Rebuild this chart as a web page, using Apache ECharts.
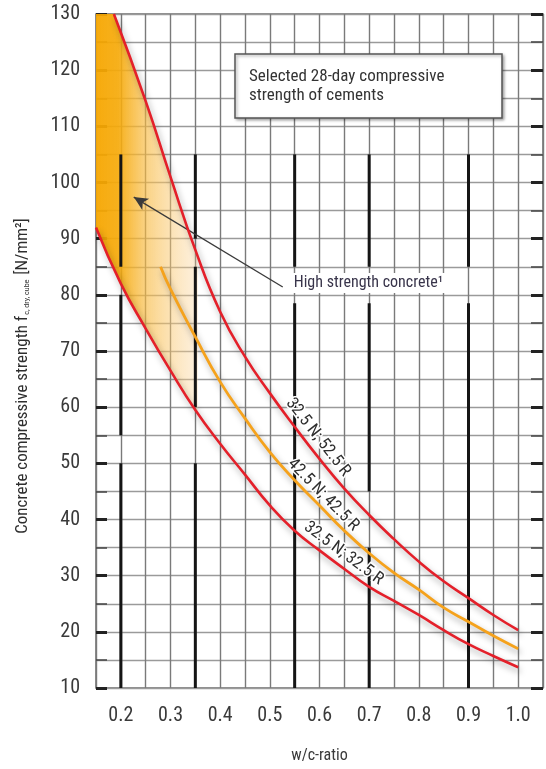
<!DOCTYPE html>
<html><head><meta charset="utf-8">
<script src="https://cdn.jsdelivr.net/npm/echarts@6/dist/echarts.min.js"></script>
<style>html,body{margin:0;padding:0;background:#fff}#c{width:546px;height:769px}</style>
</head><body><div id="c"></div>
<script>
// ---- data ----
const xTicks = [0.2, 0.3, 0.4, 0.5, 0.6, 0.7, 0.8, 0.9, 1.0];
const xTickLabels = ['0.2', '0.3', '0.4', '0.5', '0.6', '0.7', '0.8', '0.9', '1.0'];
const yTicks = [10, 20, 30, 40, 50, 60, 70, 80, 90, 100, 110, 120, 130];
const yTickLabels = ['10', '20', '30', '40', '50', '60', '70', '80', '90', '100', '110', '120', '130'];

// 32.5 N; 52.5 R
const curveHigh = [[0.186, 130], [0.25, 114.5], [0.3, 101], [0.35, 88], [0.4, 77], [0.45, 69], [0.5, 62.5],
  [0.55, 56.5], [0.6, 50.8], [0.65, 45.5], [0.7, 40.8], [0.75, 36.5], [0.8, 32.5], [0.85, 29], [0.9, 26],
  [0.95, 23], [1.0, 20.3]];
// 42.5 N; 42.5 R
const curveMid = [[0.28, 85], [0.3, 81], [0.35, 72.5], [0.4, 64.5], [0.45, 58], [0.5, 52], [0.55, 47],
  [0.6, 42.5], [0.65, 38], [0.7, 34], [0.75, 30.5], [0.8, 27.5], [0.85, 24.3], [0.9, 21.8], [0.95, 19.3], [1.0, 17]];
// 32.5 N; 32.5 R
const curveLow = [[0.15, 92], [0.2, 82], [0.25, 74], [0.3, 66.5], [0.35, 59.5], [0.4, 53.5], [0.45, 48],
  [0.5, 42.5], [0.55, 38], [0.6, 34.5], [0.65, 31.2], [0.7, 28], [0.75, 25.5], [0.8, 23], [0.85, 20.3],
  [0.9, 17.8], [0.95, 15.7], [1.0, 13.7]];
const curveNames = ['32.5 N; 52.5 R', '42.5 N; 42.5 R', '32.5 N; 32.5 R'];

// heavy vertical grid segments: [x, yFrom, yTo]
const thickSegments = [
  [0.2, 10, 50], [0.2, 55, 80], [0.2, 85, 105],
  [0.35, 10, 50], [0.35, 60, 85], [0.35, 90, 105],
  [0.55, 10, 78.5], [0.55, 85, 105],
  [0.7, 10, 35], [0.7, 45, 78.5], [0.7, 85, 105],
  [0.9, 10, 78.5], [0.9, 85, 105]
];
const shadeRightX = 0.355;       // right edge of high strength zone
const arrowFrom = [0.526, 81.4];  // annotation arrow (data coords)
const arrowTo = [0.226, 97.4];
const hscLabel = 'High strength concrete\u00B9';
const boxLines = ['Selected 28-day compressive', 'strength of cements'];

// ---- helpers ----
function interp(curve, x) {
  for (let i = 0; i < curve.length - 1; i++) {
    const a = curve[i], b = curve[i + 1];
    if (x >= a[0] && x <= b[0]) return a[1] + (b[1] - a[1]) * (x - a[0]) / (b[0] - a[0]);
  }
  return x < curve[0][0] ? curve[0][1] : curve[curve.length - 1][1];
}

const FONT = "'Roboto Condensed', 'Liberation Sans', sans-serif";
const RED = '#e4202a', ORANGE = '#f5a21c';
const TXT = '#3a3a3a';

const chart = echarts.init(document.getElementById('c'));

const lineShadow = { shadowColor: 'rgba(0,0,0,0.35)', shadowBlur: 6, shadowOffsetX: 2, shadowOffsetY: 4 };

chart.setOption({
  animation: false,
  grid: { left: 96, right: 1, top: 14, bottom: 81, show: true, borderColor: '#6a6a6a', borderWidth: 1.5, backgroundColor: 'transparent' },
  xAxis: {
    type: 'value', min: 0.15, max: 1.05, interval: 0.05,
    axisLine: { show: false }, axisTick: { show: false },
    splitLine: { show: true, lineStyle: { color: '#7a7a7a', width: 1.4 } },
    axisLabel: {
      margin: 18, fontSize: 20, color: TXT, fontFamily: FONT,
      formatter: v => { const i = xTicks.findIndex(t => Math.abs(t - v) < 1e-6); return i >= 0 ? xTickLabels[i] : ''; }
    },
    name: 'w/c-ratio', nameLocation: 'middle', nameGap: 60,
    nameTextStyle: { fontSize: 16, color: TXT, fontFamily: FONT }
  },
  yAxis: [{
    type: 'value', min: 10, max: 130, interval: 10, position: 'left',
    axisLine: { show: false },
    axisTick: { show: true, inside: true, length: 11, lineStyle: { color: '#222', width: 3 } },
    minorTick: { show: true, splitNumber: 2, length: 11, lineStyle: { color: '#444', width: 1.5 } },
    splitLine: { show: true, lineStyle: { color: '#9a9a9a', width: 1.4 } },
    minorSplitLine: { show: true, lineStyle: { color: '#9a9a9a', width: 1.4 } },
    axisLabel: {
      margin: 16, fontSize: 20, color: TXT, fontFamily: FONT,
      formatter: v => { const i = yTicks.indexOf(Math.round(v)); return i >= 0 ? yTickLabels[i] : ''; }
    }
  }, {
    type: 'value', min: 10, max: 130, interval: 10, position: 'right',
    axisLine: { show: false }, axisLabel: { show: false }, splitLine: { show: false },
    axisTick: { show: true, inside: true, length: 12, lineStyle: { color: '#222', width: 3 } },
    minorTick: { show: true, splitNumber: 2, length: 12, lineStyle: { color: '#444', width: 1.5 } }
  }],
  series: [
    {
      type: 'custom', z: 1, silent: true, clip: true,
      data: [[0.2, 100]],
      renderItem: (params, api) => {
        const pts = [];
        curveHigh.filter(p => p[0] <= shadeRightX).forEach(p => pts.push(api.coord(p)));
        pts.push(api.coord([shadeRightX, interp(curveHigh, shadeRightX)]));
        pts.push(api.coord([shadeRightX, interp(curveLow, shadeRightX)]));
        curveLow.filter(p => p[0] <= shadeRightX).slice().reverse().forEach(p => pts.push(api.coord(p)));
        pts.push(api.coord([0.15, 130]));
        return {
          type: 'polygon', shape: { points: pts },
          style: {
            fill: new echarts.graphic.LinearGradient(0, 0, 1, 0, [
              { offset: 0, color: 'rgba(246,166,0,0.95)' },
              { offset: 0.22, color: 'rgba(246,170,10,0.92)' },
              { offset: 0.5, color: 'rgba(248,188,70,0.65)' },
              { offset: 1, color: 'rgba(251,214,160,0.35)' }
            ])
          }
        };
      }
    },
    {
      type: 'custom', z: 2, silent: true, clip: true,
      encode: { x: 0, y: [1, 2] },
      data: thickSegments,
      renderItem: (params, api) => {
        const a = api.coord([api.value(0), api.value(1)]);
        const b = api.coord([api.value(0), api.value(2)]);
        return { type: 'line', shape: { x1: a[0], y1: a[1], x2: b[0], y2: b[1] }, style: { stroke: '#151515', lineWidth: 3 } };
      }
    },
    {
      name: curveNames[0], type: 'line', z: 5, data: curveHigh, smooth: true, symbol: 'none', clip: true,
      lineStyle: Object.assign({ color: RED, width: 2.6 }, lineShadow),
      markLine: {
        silent: true, symbol: ['none', 'arrow'], symbolSize: [10, 14],
        label: { show: false },
        lineStyle: { color: '#3a3a3a', width: 1.3, type: 'solid' },
        data: [[{ coord: arrowFrom }, { coord: arrowTo }]]
      }
    },
    {
      name: curveNames[1], type: 'line', z: 5, data: curveMid, smooth: true, symbol: 'none', clip: true,
      lineStyle: Object.assign({ color: ORANGE, width: 2.8 }, lineShadow)
    },
    {
      name: curveNames[2], type: 'line', z: 5, data: curveLow, smooth: true, symbol: 'none', clip: true,
      lineStyle: Object.assign({ color: RED, width: 2.6 }, lineShadow)
    }
  ]
});

// ---- annotations positioned through the chart's scales ----
function px(p) { return chart.convertToPixel({ gridIndex: 0 }, p); }
const labelSpecs = [
  { curve: curveHigh, x: 0.578, off: 12, text: curveNames[0] },
  { curve: curveMid, x: 0.593, off: 10, text: curveNames[1] },
  { curve: curveLow, x: 0.634, off: 12, text: curveNames[2] }
];
const graphics = [];
labelSpecs.forEach(s => {
  const p = px([s.x, interp(s.curve, s.x)]);
  const p1 = px([s.x - 0.03, interp(s.curve, s.x - 0.03)]);
  const p2 = px([s.x + 0.03, interp(s.curve, s.x + 0.03)]);
  const dx = p2[0] - p1[0], dy = p2[1] - p1[1], len = Math.hypot(dx, dy);
  const nx = dy / len, ny = -dx / len;
  graphics.push({
    type: 'text', z: 100, x: p[0] + nx * s.off, y: p[1] + ny * s.off,
    rotation: -Math.atan2(dy, dx),
    style: { text: s.text, align: 'center', verticalAlign: 'middle', font: '17px ' + FONT, fill: '#2e2e2e',
      stroke: '#fff', lineWidth: 3 }
  });
});
const a0 = px(arrowFrom);
graphics.push({
  type: 'text', z: 100, x: a0[0] + 8, y: a0[1] - 4,
  style: { text: hscLabel, align: 'left', verticalAlign: 'middle', font: '16px ' + FONT, fill: '#38344a',
    backgroundColor: '#fff', padding: [2, 3] }
});
graphics.push({
  type: 'rect', z: 100, shape: { x: 235, y: 54, width: 267, height: 64 },
  style: { fill: '#fff', stroke: '#555', lineWidth: 1.5, shadowColor: 'rgba(0,0,0,0.35)', shadowBlur: 3, shadowOffsetX: 1.5, shadowOffsetY: 1.5 }
});
graphics.push({
  type: 'text', z: 101, x: 249, y: 67,
  style: { text: boxLines.join('\n'), align: 'left', verticalAlign: 'top', font: '17px ' + FONT, fill: '#333', lineHeight: 19 }
});
graphics.push({
  type: 'text', z: 100, x: 21, y: 376, rotation: Math.PI / 2,
  style: {
    text: '{a|Concrete compressive strength f}{s|c, dry, cube}{a| [N/mm\u00B2]}',
    align: 'center', verticalAlign: 'middle',
    rich: {
      a: { fontSize: 17, fontFamily: FONT, fill: '#2e2e2e', lineHeight: 20, verticalAlign: 'bottom' },
      s: { fontSize: 8, fontFamily: FONT, fill: '#2e2e2e', lineHeight: 20, verticalAlign: 'bottom', padding: [0, 1, 0, 1] }
    }
  }
});
chart.setOption({ graphic: graphics });
</script>
</body></html>
